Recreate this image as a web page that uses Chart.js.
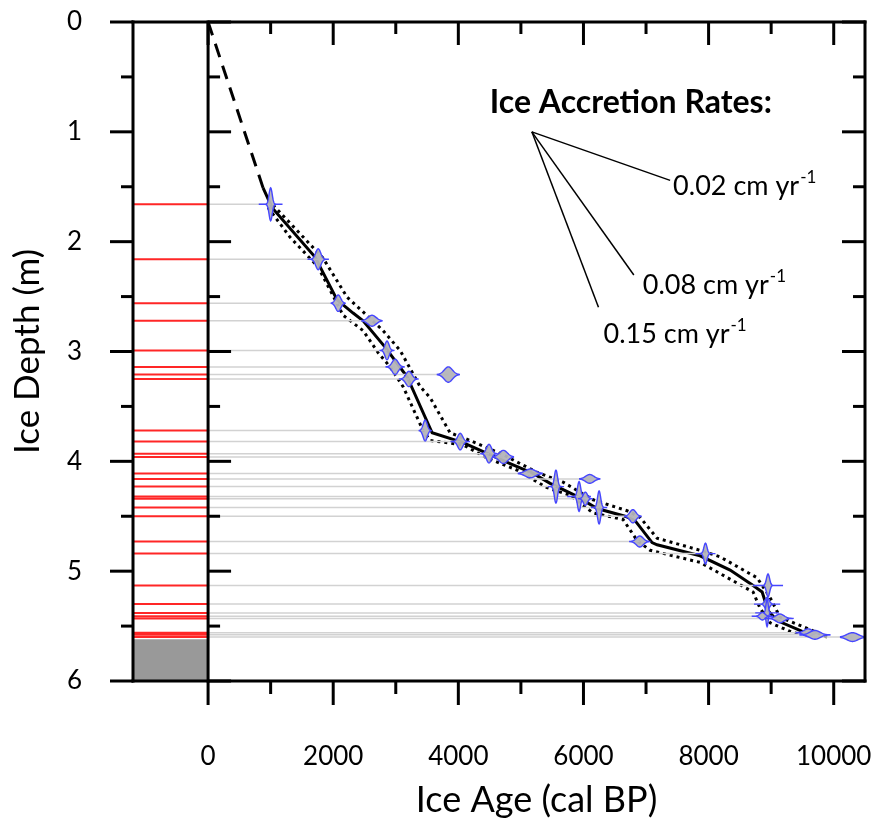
<!DOCTYPE html>
<html><head><meta charset="utf-8">
<script src="https://cdn.jsdelivr.net/npm/chart.js@4.4.1/dist/chart.umd.min.js"></script>
<style>html,body{margin:0;padding:0;background:#fff}</style>
</head><body>
<canvas id="c" width="872" height="820"></canvas>
<script>
// ---------- axis ranges and ticks ----------
const ageMin = -1200, ageMax = 10500;
const depthMin = 0, depthMax = 6;
const ageTicks = [0, 2000, 4000, 6000, 8000, 10000];
const depthTicks = [0, 1, 2, 3, 4, 5, 6];

// ---------- dated samples ----------
const sampleDepth = [1.66,2.16,2.56,2.72,2.99,3.14,3.21,3.25,3.72,3.82,3.93,3.96,4.11,4.16,4.23,4.32,4.34,4.42,4.50,4.73,4.84,5.13,5.30,5.38,5.41,5.43,5.56,5.58,5.60];
const sampleAge   = [1000,1760,2080,2620,2860,2990,3840,3210,3470,4030,4490,4720,5150,6100,5560,5930,6030,6250,6790,6900,7950,8950,8935,8935,8860,9140,9590,9700,10300];
// calibrated age probability shapes: body half-width (yr), peak half-height (m), total half-range (yr)
const pdfWidth  = [50,80,80,130,65,95,130,95,65,80,80,130,160,130,50,50,65,50,95,110,50,50,65,35,80,130,130,160,175];
const pdfHeight = [0.15,0.095,0.075,0.05,0.085,0.07,0.07,0.07,0.095,0.075,0.085,0.06,0.04,0.04,0.15,0.135,0.06,0.15,0.06,0.05,0.095,0.105,0.06,0.125,0.035,0.04,0.035,0.04,0.04];
const pdfRange  = [190,160,110,160,110,145,175,145,95,145,130,160,190,160,130,190,110,130,130,160,160,240,210,190,160,210,190,240,190];

// ---------- age-depth model ----------
const modelAge   = [879,1023,1710,2062,2318,2478,2829,3181,3581,4076,4827,5195,5467,5866,6218,6665,6825,7097,7177,7864,8344,8712,8856,8951,9095,9543];
const modelDepth = [1.51,1.69,2.14,2.53,2.65,2.72,2.96,3.23,3.74,3.83,4.02,4.11,4.20,4.31,4.43,4.50,4.54,4.74,4.76,4.86,4.99,5.13,5.19,5.36,5.45,5.56];
const olderAge   = [1039,1838,2222,2478,2797,3069,3389,3549,3868,4188,4715,5259,5675,6154,6698,6905,7177,7864,8184,8775,8983,9143,9575,9895];
const olderDepth = [1.667,2.15,2.505,2.64,2.81,2.99,3.32,3.42,3.74,3.81,3.94,4.10,4.19,4.35,4.45,4.51,4.70,4.81,4.87,5.06,5.24,5.42,5.52,5.60];
const youngerAge   = [959,1311,1758,2158,2478,2717,2909,3117,3437,3549,4076,4460,4939,5419,5787,6154,6634,6857,7065,7864,8712,8824,8983,9351,9463];
const youngerDepth = [1.69,1.96,2.23,2.67,2.81,3.01,3.14,3.32,3.72,3.81,3.85,3.97,4.08,4.24,4.31,4.47,4.53,4.72,4.81,4.92,5.19,5.34,5.47,5.56,5.57];
const extrapAge   = [0, 879];
const extrapDepth = [0, 1.51];
const basalDepth = 5.62;

// ---------- accretion rate legend ----------
const rateValues = [0.02, 0.08, 0.15];     // cm / yr
const rateSpan   = [2210, 1630, 1065];     // years spanned by each slope line
const rateLabels = ['0.02 cm yr', '0.08 cm yr', '0.15 cm yr'];
const rateOriginAge = 5175, rateOriginDepth = 1.0;

const pts = (xs, ys) => xs.map((v, i) => ({x: v, y: ys[i]}));
const redSeg = [], graySeg = [];
sampleDepth.forEach((d, i) => {
  redSeg.push({x: ageMin, y: d}, {x: 0, y: d}, {x: 0, y: null});
  graySeg.push({x: 0, y: d}, {x: sampleAge[i], y: d}, {x: sampleAge[i], y: null});
});

const FONT = 'Lato';

const decor = {
  id: 'decor',
  beforeDatasetsDraw(chart) {
    const {ctx, scales: {x, y}} = chart;
    ctx.save();
    ctx.fillStyle = '#999999';
    const x1 = x.getPixelForValue(ageMin), x2 = x.getPixelForValue(0);
    const y1 = y.getPixelForValue(basalDepth), y2 = y.getPixelForValue(depthMax);
    ctx.fillRect(x1, y1, x2 - x1, y2 - y1);
    ctx.restore();
  },
  afterDatasetsDraw(chart) {
    const {ctx, scales: {x, y}} = chart;
    ctx.save();
    sampleDepth.forEach((d, i) => {
      const sig = pdfWidth[i] / 2, n = 60;
      const top = [], bot = [];
      for (let k = 0; k <= n; k++) {
        const u = -pdfRange[i] + 2 * pdfRange[i] * k / n;
        const h = pdfHeight[i] * Math.exp(-0.5 * (u / sig) * (u / sig));
        top.push([x.getPixelForValue(sampleAge[i] + u), y.getPixelForValue(d - h)]);
        bot.push([x.getPixelForValue(sampleAge[i] + u), y.getPixelForValue(d + h)]);
      }
      ctx.beginPath();
      top.forEach((p, k) => k ? ctx.lineTo(p[0], p[1]) : ctx.moveTo(p[0], p[1]));
      for (let k = bot.length - 1; k >= 0; k--) ctx.lineTo(bot[k][0], bot[k][1]);
      ctx.closePath();
      ctx.fillStyle = 'rgba(180,180,185,0.95)';
      ctx.fill();
      ctx.strokeStyle = 'rgb(70,70,255)';
      ctx.lineWidth = 1.4;
      ctx.stroke();
    });
    ctx.restore();
  },
  afterDraw(chart) {
    const {ctx, chartArea: {left: L, right: R, top: T, bottom: B}, scales: {x, y}} = chart;
    const X0 = x.getPixelForValue(0);
    ctx.save();
    ctx.strokeStyle = '#000';
    ctx.lineWidth = 3;
    ctx.lineCap = 'square';
    const seg = (a, b, c, d) => { ctx.beginPath(); ctx.moveTo(a, b); ctx.lineTo(c, d); ctx.stroke(); };
    seg(L, T, R, T); seg(L, B, R, B); seg(L, T, L, B); seg(R, T, R, B); seg(X0, T, X0, B);
    ctx.lineCap = 'butt';
    for (let d = depthMin; d <= depthMax + 1e-9; d += 0.5) {
      const len = Math.abs(d - Math.round(d)) < 1e-9 ? 23 : 12;
      const yy = y.getPixelForValue(d);
      seg(L - len, yy, L, yy); seg(X0, yy, X0 + len, yy); seg(R - len, yy, R, yy);
    }
    for (let a = 0; a <= 10000; a += 1000) {
      const len = a % 2000 === 0 ? 24 : 13;
      const xx = x.getPixelForValue(a);
      seg(xx, B, xx, B + len);
      seg(xx, T, xx, T + (a % 2000 === 0 ? 23 : 12));
    }
    // accretion-rate legend
    const ox = x.getPixelForValue(rateOriginAge), oy = y.getPixelForValue(rateOriginDepth);
    ctx.lineWidth = 1.5;
    const ends = rateValues.map((r, i) => [x.getPixelForValue(rateOriginAge + rateSpan[i]), y.getPixelForValue(rateOriginDepth + r * rateSpan[i] / 100)]);
    ends.forEach(e => seg(ox, oy, e[0], e[1]));
    ctx.fillStyle = '#000';
    ctx.textBaseline = 'middle';
    ctx.textAlign = 'left';
    ctx.font = 'bold 32px ' + FONT;
    ctx.fillText('Ice Accretion Rates:', ox - 42, oy - 29);
    const offs = [[3, 6], [9, 10], [5, 27]];
    ends.forEach((e, i) => {
      ctx.font = '27px ' + FONT;
      const tx = e[0] + offs[i][0], ty = e[1] + offs[i][1];
      ctx.fillText(rateLabels[i], tx, ty);
      const w = ctx.measureText(rateLabels[i]).width;
      ctx.font = '17px ' + FONT;
      ctx.fillText('-1', tx + w + 1, ty - 9);
    });
    // x-axis title centred on the age panel
    ctx.textAlign = 'center';
    ctx.font = '36px ' + FONT;
    ctx.fillText('Ice Age (cal BP)', (X0 + R) / 2, 800);
    ctx.restore();
  }
};

const zeroPad = s => { s.paddingLeft = 0; s.paddingRight = 0; s.paddingTop = 0; s.paddingBottom = 0; };

new Chart(document.getElementById('c'), {
  type: 'scatter',
  data: {
    datasets: [
      {data: graySeg, showLine: true, borderColor: '#d2d2d2', borderWidth: 1.5, pointRadius: 0, spanGaps: false},
      {data: redSeg, showLine: true, borderColor: 'rgba(255,0,0,0.85)', borderWidth: 2, pointRadius: 0, spanGaps: false},
      {data: pts(youngerAge, youngerDepth), showLine: true, borderColor: '#000', borderWidth: 3, borderDash: [3, 4], pointRadius: 0},
      {data: pts(olderAge, olderDepth), showLine: true, borderColor: '#000', borderWidth: 3, borderDash: [3, 4], pointRadius: 0},
      {data: pts(modelAge, modelDepth), showLine: true, borderColor: '#000', borderWidth: 3, pointRadius: 0},
      {data: pts(extrapAge, extrapDepth), showLine: true, borderColor: '#000', borderWidth: 3, borderDash: [14, 9], pointRadius: 0}
    ]
  },
  options: {
    responsive: false,
    animation: false,
    events: [],
    layout: {padding: {top: 22, right: 7, left: 0, bottom: 0}},
    plugins: {legend: {display: false}, tooltip: {enabled: false}},
    scales: {
      x: {
        type: 'linear', position: 'bottom', min: ageMin, max: ageMax,
        afterBuildTicks: s => { s.ticks = ageTicks.map(v => ({value: v})); },
        ticks: {callback: v => String(v), font: {family: FONT, size: 26}, color: '#000', padding: 60, maxRotation: 0, autoSkip: false},
        grid: {display: false, drawTicks: false},
        border: {display: false},
        afterFit: s => { s.height = 139; zeroPad(s); }
      },
      y: {
        type: 'linear', position: 'left', reverse: true, min: depthMin, max: depthMax,
        afterBuildTicks: s => { s.ticks = depthTicks.map(v => ({value: v})); },
        ticks: {callback: v => String(v), font: {family: FONT, size: 26}, color: '#000', padding: 51, autoSkip: false},
        grid: {display: false, drawTicks: false},
        border: {display: false},
        title: {display: true, text: 'Ice Depth (m)', font: {family: FONT, size: 35}, color: '#000', padding: {top: 7, bottom: 0}},
        afterFit: s => { s.width = 133; zeroPad(s); }
      }
    }
  },
  plugins: [decor]
});
</script>
</body></html>
